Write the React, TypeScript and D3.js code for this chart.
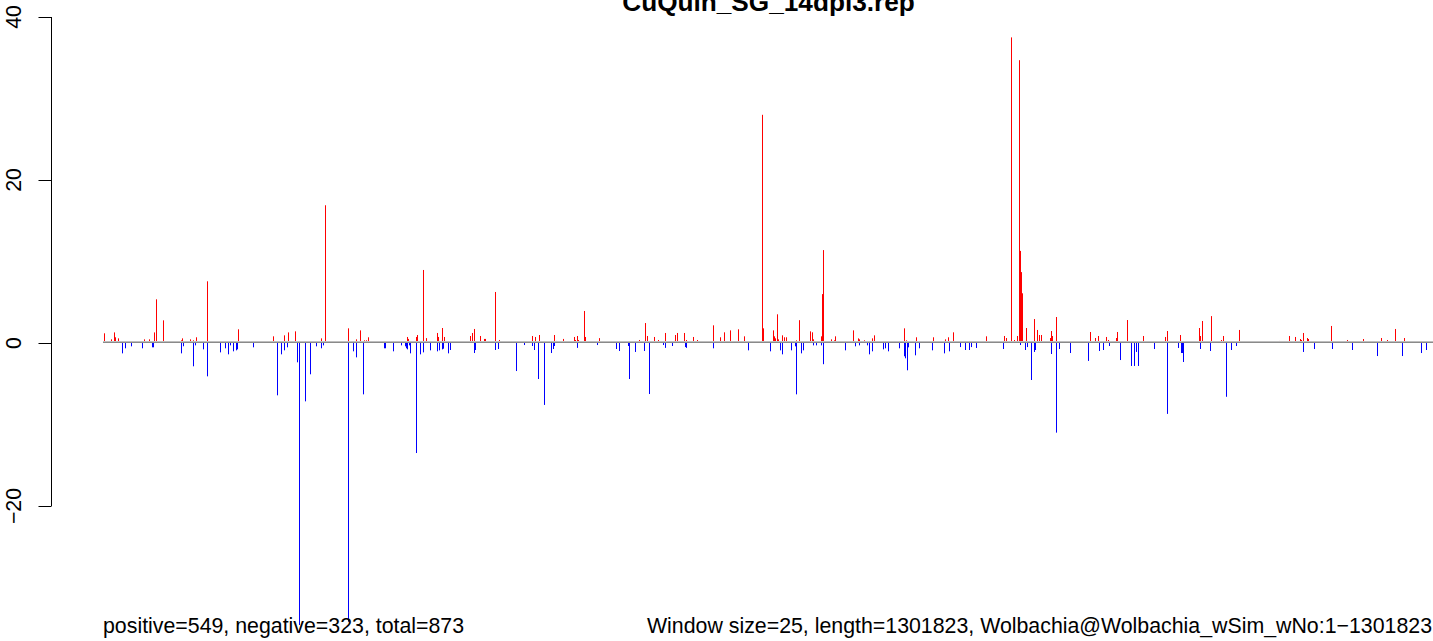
import React from 'react';
import * as d3 from 'd3';

const TITLE = 'CuQuin_SG_14dpi3.rep';
const GENOME_LENGTH_KB = 1301.823;
const Y_TICKS = [-20, 0, 20, 40];
const FOOT_LEFT = 'positive=549, negative=323, total=873';
const FOOT_RIGHT = 'Window size=25, length=1301823, Wolbachia@Wolbachia_wSim_wNo:1\u22121301823';

// [position (kb), score]
const positiveWindows: [number, number][] = [
  [1.0, 1.19], [5.9, 0.12], [8.1, 0.45], [11.1, 1.3], [12.1, 0.7], [15.0, 0.57],
  [40.5, 0.45], [45.4, 0.45], [50.3, 1.3], [52.2, 5.36], [59.1, 2.78], [76.8, 0.33],
  [77.7, 0.57], [83.6, 0.12], [85.6, 0.45], [88.5, 0.33], [91.5, 0.7], [102.2, 7.57],
  [132.6, 1.68], [166.9, 0.82], [174.8, 0.12], [177.7, 0.94], [181.7, 1.3], [188.5, 1.43],
  [214.0, 0.57], [217.9, 16.9], [240.5, 1.8], [248.3, 0.45], [252.2, 1.55], [256.2, 0.33],
  [258.1, 0.33], [260.1, 0.7], [263.0, 0.2], [298.3, 0.74], [299.3, 0.5], [307.1, 0.74],
  [308.1, 0.98], [314.0, 8.96], [316.9, 0.6], [327.7, 1.23], [328.7, 0.74], [331.6, 0.25],
  [332.6, 1.84], [334.6, 0.74], [360.1, 0.86], [362.0, 1.23], [364.0, 1.72], [369.9, 0.86],
  [373.8, 0.5], [374.8, 0.5], [384.6, 6.26], [388.5, 0.37], [419.9, 0.25], [420.8, 0.86],
  [423.8, 0.74], [427.7, 0.98], [442.4, 0.98], [444.4, 0.25], [451.2, 0.5], [462.0, 0.74],
  [463.0, 0.37], [465.0, 0.86], [465.9, 0.37], [471.8, 3.93], [472.8, 0.74], [486.5, 0.6],
  [525.7, 0.37], [531.6, 2.45], [533.6, 0.86], [540.4, 0.74], [544.4, 0.37], [551.2, 1.23],
  [560.0, 0.25], [561.0, 0.98], [563.0, 1.23], [569.9, 1.23], [571.8, 0.37], [578.7, 0.74],
  [582.6, 0.37], [598.3, 2.17], [605.1, 0.7], [609.1, 1.31], [614.9, 1.55], [616.9, 0.2],
  [622.8, 1.68], [628.7, 0.82], [646.3, 28.0], [647.3, 1.8], [654.2, 0.2], [657.1, 1.55],
  [658.1, 0.82], [659.1, 0.57], [661.0, 3.52], [662.0, 0.45], [665.9, 0.94], [667.9, 0.7],
  [669.8, 0.7], [679.6, 0.33], [682.6, 2.8], [693.4, 1.43], [695.3, 1.31], [696.3, 0.45],
  [702.2, 0.2], [704.2, 0.82], [705.1, 6.0], [706.1, 11.4], [714.0, 0.45], [716.9, 0.33],
  [717.9, 0.82], [735.5, 1.55], [740.4, 0.57], [741.4, 0.45], [746.3, 0.33], [751.2, 0.2],
  [754.1, 0.57], [756.1, 0.94], [785.5, 1.8], [787.5, 0.33], [789.4, 0.1], [797.3, 0.7],
  [813.9, 0.7], [817.9, 0.2], [825.7, 0.45], [828.7, 0.7], [833.6, 1.31], [840.4, 0.1],
  [865.9, 0.82], [883.5, 0.86], [885.5, 0.61], [890.4, 37.5], [893.4, 0.37], [896.3, 0.86],
  [897.3, 0.25], [898.3, 34.7], [899.2, 11.3], [900.2, 8.7], [901.2, 6.1], [905.1, 1.84],
  [913.0, 2.94], [915.9, 1.6], [917.9, 0.98], [919.8, 0.98], [928.6, 0.61], [929.6, 1.47],
  [930.6, 0.86], [934.5, 3.19], [967.9, 1.35], [972.8, 0.61], [975.7, 0.86], [983.5, 0.74],
  [985.5, 0.37], [993.3, 0.61], [994.3, 1.35], [1004.1, 2.82], [1019.8, 0.86], [1041.4, 0.74],
  [1043.3, 1.47], [1056.1, 0.98], [1058.0, 0.12], [1074.7, 1.84], [1075.7, 0.86], [1077.6, 2.7],
  [1086.5, 3.3], [1096.3, 0.37], [1098.2, 0.86], [1113.9, 1.6], [1153.1, 0.25], [1162.9, 0.86],
  [1168.8, 0.74], [1173.7, 0.49], [1174.7, 0.37], [1176.6, 1.23], [1180.6, 0.61], [1181.6, 0.49],
  [1204.1, 2.09], [1219.8, 0.37], [1235.5, 0.49], [1253.1, 0.61], [1259.0, 0.37], [1266.8, 1.72],
  [1275.7, 0.61],
];

const negativeWindows: [number, number][] = [
  [18.9, -1.27], [21.9, -0.65], [27.7, -0.41], [38.5, -0.65], [48.3, -0.53], [49.3, -0.53],
  [76.8, -1.27], [78.7, -0.4], [88.5, -2.86], [90.5, -0.29], [98.3, -0.78], [102.2, -4.09],
  [115.0, -1.15], [119.9, -0.65], [122.8, -1.39], [124.8, -0.29], [127.7, -1.02], [130.7, -0.9],
  [131.7, -0.78], [147.3, -0.53], [170.9, -6.42], [174.8, -1.39], [177.7, -0.9], [180.7, -0.53],
  [190.5, -2.37], [192.4, -34.6], [198.3, -7.16], [203.2, -3.84], [209.1, -0.41], [214.0, -0.65],
  [216.0, -0.29], [240.5, -34.2], [245.4, -1.02], [248.3, -1.76], [255.2, -6.3], [275.8, -0.65],
  [276.7, -0.65], [284.6, -1.02], [292.4, -0.29], [296.3, -0.41], [297.3, -0.65], [298.3, -0.78],
  [300.3, -0.29], [301.2, -1.27], [307.1, -13.5], [311.1, -1.39], [314.0, -1.15], [320.9, -0.9],
  [327.7, -1.02], [329.7, -0.9], [332.6, -0.78], [333.6, -0.7], [338.5, -1.27], [340.5, -0.86],
  [364.0, -1.23], [365.0, -0.86], [384.6, -0.86], [387.5, -0.74], [405.2, -3.44], [413.0, -0.25],
  [420.8, -0.37], [422.8, -0.86], [426.7, -4.42], [432.6, -7.6], [439.5, -1.23], [441.4, -0.74],
  [442.4, -0.37], [465.0, -0.6], [484.6, -0.25], [503.2, -0.74], [506.1, -0.98], [515.0, -0.37],
  [515.9, -4.42], [521.8, -1.1], [530.6, -0.98], [535.5, -6.26], [549.3, -0.25], [551.2, -0.6],
  [558.1, -0.37], [570.8, -0.5], [571.8, -0.6], [598.3, -0.65], [632.6, -0.9], [654.2, -1.02],
  [664.0, -0.9], [665.9, -1.39], [674.7, -0.9], [678.7, -0.41], [679.6, -6.3], [684.5, -1.27],
  [686.5, -0.9], [696.3, -0.29], [699.2, -0.29], [704.2, -0.29], [706.1, -2.6], [727.7, -0.9],
  [737.5, -0.41], [741.4, -0.29], [749.2, -0.29], [751.2, -1.39], [754.1, -1.02], [764.9, -0.78],
  [766.9, -0.65], [769.8, -1.02], [780.6, -0.65], [785.5, -1.63], [786.5, -1.88], [788.5, -3.35],
  [789.4, -0.53], [796.3, -1.51], [800.2, -0.65], [813.0, -0.9], [824.7, -1.27], [829.6, -1.02],
  [840.4, -0.5], [845.3, -0.86], [849.2, -0.86], [851.2, -0.5], [856.1, -0.61], [882.6, -0.74],
  [899.2, -0.25], [904.1, -0.86], [906.1, -0.5], [910.0, -4.54], [913.0, -1.1], [913.9, -0.86],
  [929.6, -1.35], [934.5, -11.0], [937.5, -0.74], [948.2, -1.23], [965.9, -2.2], [976.7, -0.98],
  [980.6, -0.86], [986.5, -0.37], [997.3, -2.09], [1008.0, -2.82], [1011.0, -2.82], [1012.9, -1.1],
  [1014.9, -2.82], [1030.6, -0.74], [1043.3, -8.7], [1054.1, -0.61], [1057.1, -1.23], [1058.0, -1.23],
  [1059.0, -2.33], [1075.7, -0.74], [1085.5, -0.98], [1101.2, -6.6], [1106.1, -0.86], [1111.0, -0.37],
  [1176.6, -1.1], [1187.4, -0.74], [1205.1, -0.74], [1224.7, -0.86], [1249.2, -1.6], [1273.7, -1.6],
  [1292.3, -1.23], [1297.2, -0.86],
];

const WIDTH = 1433;
const HEIGHT = 641;
const FONT = '"Liberation Sans", Arial, Helvetica, sans-serif';

export default function App() {
  const x = d3.scaleLinear().domain([0, GENOME_LENGTH_KB]).range([103, 1431]);
  const y = d3.scaleLinear().domain([0, 20]).range([343, 180]);
  const px = (kb: number) => Math.floor(x(kb)) + 0.5;
  const y0 = y(0);
  const axisX = 51.5;

  return (
    <svg
      width={WIDTH}
      height={HEIGHT}
      style={{ position: 'absolute', left: 0, top: 0, background: '#fff' }}
      fontFamily={FONT}
    >
      <rect width={WIDTH} height={HEIGHT} fill="#fff" />
      <text x={768.5} y={11} textAnchor="middle" fontWeight="bold" fontSize={26.2} fill="#000">
        {TITLE}
      </text>

      {/* y axis */}
      <line x1={axisX} x2={axisX} y1={y(40)} y2={y(-20)} stroke="#000" strokeWidth={1} />
      {Y_TICKS.map((t) => (
        <g key={t}>
          <line x1={axisX - 13} x2={axisX} y1={Math.round(y(t)) + 0.5} y2={Math.round(y(t)) + 0.5} stroke="#000" strokeWidth={1} />
          <text
            transform={`translate(21,${y(t)}) rotate(-90)`}
            textAnchor="middle"
            fontSize={21.33}
            fill="#000"
          >
            {t < 0 ? `\u2212${Math.abs(t)}` : String(t)}
          </text>
        </g>
      ))}

      {/* bars */}
      {positiveWindows.map(([p, v], i) => (
        <line key={`p${i}`} x1={px(p)} x2={px(p)} y1={y0} y2={y(v)} stroke="#ff0000" strokeWidth={1} />
      ))}
      {negativeWindows.map(([p, v], i) => (
        <line key={`n${i}`} x1={px(p)} x2={px(p)} y1={y0} y2={y(v)} stroke="#0000ff" strokeWidth={1} />
      ))}

      {/* zero line */}
      <line x1={x(0)} x2={WIDTH} y1={y0 - 1.5} y2={y0 - 1.5} stroke="#bebebe" strokeWidth={1} />
      <line x1={x(0)} x2={WIDTH} y1={y0 - 0.5} y2={y0 - 0.5} stroke="#8a8a8a" strokeWidth={1} />

      <text x={103} y={633} fontSize={21.33} fill="#000">{FOOT_LEFT}</text>
      <text x={1432} y={633} fontSize={21.33} textAnchor="end" fill="#000">{FOOT_RIGHT}</text>
    </svg>
  );
}
